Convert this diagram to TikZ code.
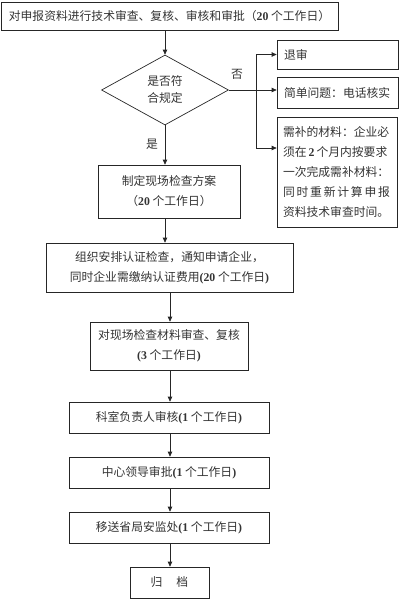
\documentclass[tikz,border=0pt]{standalone}
\usepackage{fontspec}
\setmainfont{Liberation Serif}
\newfontfamily\cjk{Noto Sans CJK SC}
\usetikzlibrary{shapes.geometric,arrows.meta}
\newcommand\bn[1]{{\rmfamily\bfseries #1}}
\begin{document}
\begin{tikzpicture}[x=1pt,y=-1pt,
  box/.style={draw=black!85, line width=0.7pt, text=black!80, font=\cjk\fontsize{11.8}{20}\selectfont, align=center, inner sep=0pt},
  arr/.style={draw=black!85, line width=0.7pt, -{Triangle[length=5pt,width=4.5pt]}},
  ln/.style={draw=black!85, line width=0.7pt},
  lbl/.style={text=black!80, font=\cjk\fontsize{11.8}{14}\selectfont, inner sep=0pt}]
\useasboundingbox (0,0) rectangle (400,600);
\node[box, minimum width=337pt, minimum height=28pt] (top) at (169.5,16) {对申报资料进行技术审查、复核、审核和审批（\bn{20} 个工作日）};
\node[box, diamond, minimum width=127pt, minimum height=70pt, font=\cjk\fontsize{11.8}{17}\selectfont] (d) at (165,90) {是否符\\合规定};
\node[box, minimum width=121pt, minimum height=29pt, text width=107pt, align=left] (r1) at (337.5,54.5) {退审};
\node[box, minimum width=121pt, minimum height=31pt, text width=107pt, align=left] (r2) at (337.5,93) {简单问题：电话核实};
\node[box, minimum width=120pt, minimum height=110pt, text width=108pt, align=left] (r3) at (337,172) {\mbox{需补的材料：企业必}\\\mbox{须在\hspace{2pt}\bn{2}\hspace{2pt}个月内按要求}\\\mbox{一次完成需补材料：}\\\makebox[107pt][s]{同\hfil 时\hfil 重\hfil 新\hfil 计\hfil 算\hfil 申\hfil 报}\\\mbox{资料技术审查时间。}};
\coordinate (jx) at (256,90);
\coordinate (jt) at (r1.west -| jx);
\coordinate (jb) at (256,148);
\draw[ln] (jt) -- (jb);
\draw[arr] (jt) -- (r1.west);
\draw[arr] (d.east) -- (d.east -| r2.west);
\draw[arr] (jb) -- (jb -| r3.west);
\node[lbl] (no) at (237,74) {否};
\node[lbl] (yes) at (152,144) {是};
\node[box, minimum width=142pt, minimum height=53pt] (b1) at (169,191.5) {制定现场检查方案\\（\bn{20} 个工作日）};
\node[box, minimum width=247pt, minimum height=49pt] (b2) at (169.5,267.5) {组织安排认证检查，通知申请企业，\\同时企业需缴纳认证费用\bn{(20} 个工作日\bn{)}};
\node[box, minimum width=158pt, minimum height=48pt] (b3) at (169,346) {对现场检查材料审查、复核\\\bn{(3} 个工作日\bn{)}};
\node[box, minimum width=200pt, minimum height=31pt] (b4) at (169,417.5) {科室负责人审核\bn{(1} 个工作日\bn{)}};
\node[box, minimum width=200pt, minimum height=31pt] (b5) at (169,472.5) {中心领导审批\bn{(1} 个工作日\bn{)}};
\node[box, minimum width=200pt, minimum height=31pt] (b6) at (169,527.5) {移送省局安监处\bn{(1} 个工作日\bn{)}};
\node[box, minimum width=79pt, minimum height=31pt] (b7) at (169.5,582.5) {归\hspace{14pt}档};
\coordinate (cx) at (170,0);
\draw[arr] (top.south -| d.north) -- (d.north);
\draw[arr] (d.south) -- (d.south |- b1.north);
\draw[arr] (d.south |- b1.south) -- (d.south |- b2.north);
\draw[arr] (b2.south -| cx) -- (b3.north -| cx);
\draw[arr] (b3.south -| cx) -- (b4.north -| cx);
\draw[arr] (b4.south -| cx) -- (b5.north -| cx);
\draw[arr] (b5.south -| cx) -- (b6.north -| cx);
\draw[arr] (b6.south -| cx) -- (b7.north -| cx);
\end{tikzpicture}
\end{document}
